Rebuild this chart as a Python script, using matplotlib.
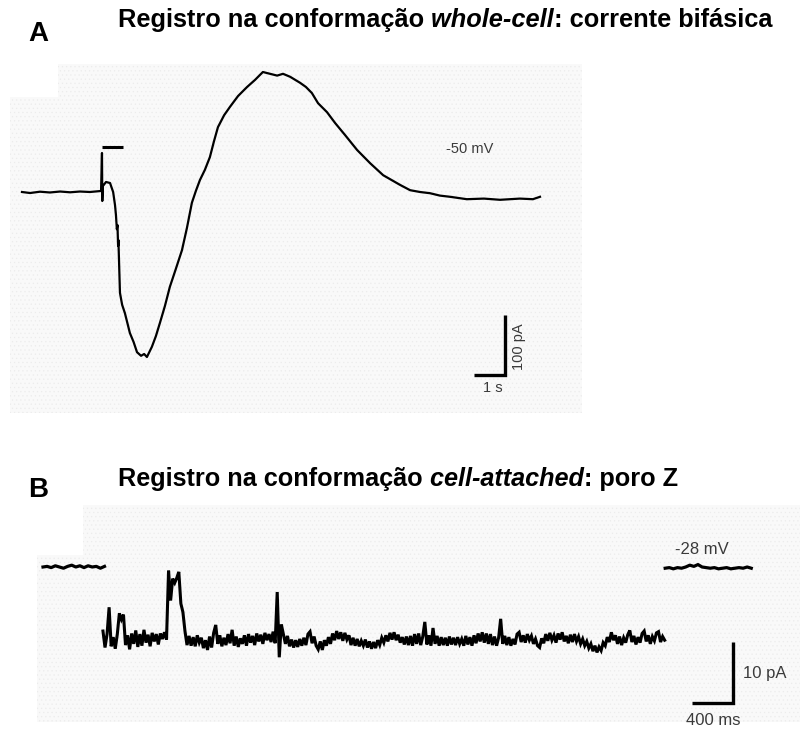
import numpy as np
import matplotlib
matplotlib.use("Agg")
import matplotlib.pyplot as plt
from matplotlib.patches import Polygon

plt.rcParams['font.family'] = ['Liberation Sans', 'DejaVu Sans']
plt.rcParams['hatch.linewidth'] = 0.4

# ---- panel A: whole-cell current, time (s) vs current (pA) ----
a_time = [0.00, 0.26, 0.58, 0.90, 1.23, 1.55, 1.87, 2.19, 2.55, 2.58,
          2.59, 2.61, 2.71, 2.84, 2.94, 3.00, 3.03, 3.06, 3.08, 3.10,
          3.11, 3.13, 3.16, 3.23, 3.32, 3.48, 3.60, 3.71, 3.84, 3.94,
          4.03, 4.19, 4.32, 4.45, 4.61, 4.77, 4.97, 5.16, 5.32, 5.48,
          5.61, 5.74, 5.90, 6.06, 6.19, 6.32, 6.52, 6.71, 6.97, 7.26,
          7.52, 7.77, 8.00, 8.23, 8.42, 8.65, 8.97, 9.16, 9.35, 9.55,
          9.84, 10.10, 10.42, 10.81, 11.23, 11.65, 12.19, 12.52, 12.84, 13.16,
          13.48, 13.81, 14.35, 14.90, 15.42, 16.06, 16.48, 16.71]
a_current = [0, -1.7, 0.5, -0.8, 0.8, -0.5, 0.8, 0, 1.7, 65,
             -15, 10, 16.7, 15, 0, -21.7, -38, -62, -55, -90,
             -80, -115, -168, -188, -202, -235, -250, -267, -273, -270,
             -275, -258, -240, -218, -190, -158, -127, -97, -60, -18,
             2, 20, 37, 58, 84, 108, 128, 142, 160, 175,
             187, 200, 197, 194, 197, 192, 182, 175, 165, 148,
             133, 115, 95, 70, 48, 28, 12, 3, 0, -2,
             -6, -8, -12, -11, -13, -11, -12, -8]
a_stim_time = [2.58, 3.26]
a_stim_level = 75
a_label = "-50 mV"

# ---- panel B: cell-attached record, time (s) vs current (pA) ----
b_dt_closed = 0.04
b_dt_open = 0.02
b_left_start = 0.0
b_open_start = 0.585
b_right_start = 6.07
b_closed_left = [0.0, 0.1, -0.1, 0.2, 0.0, -0.2, 0.1, 0.3, 0.0, 0.2,
                 -0.1, 0.2, 0.0, 0.1, -0.2, 0.1]
b_open = [
    -10.5, -13.2, -11.0, -6.6, -13.0, -11.5, -13.4, -11.0, -7.6, -8.6,
    -7.8, -12.8, -11.2, -13.5, -10.9, -12.6, -10.4, -13.1, -11.0, -12.9,
    -10.3, -12.4, -11.1, -13.0, -10.8, -12.2, -11.0, -12.7, -10.9, -11.8,
    -10.7, -11.9, -0.6, -5.5, -1.9, -2.6, -1.8, -0.8, -6.0, -7.4,
    -10.5, -12.8, -11.3, -12.9, -11.5, -13.0, -11.2, -12.4, -11.6, -13.3,
    -12.0, -13.6, -11.4, -13.2, -10.8, -9.5, -12.6, -11.2, -13.0, -11.6,
    -12.8, -11.0, -12.5, -10.3, -12.9, -11.4, -13.1, -11.7, -12.6, -11.2,
    -12.9, -11.0, -12.4, -11.3, -12.8, -10.9, -12.2, -11.1, -12.6, -10.8,
    -12.0, -11.0, -12.3, -10.6, -12.5, -4.1, -14.8, -9.4, -11.0, -12.6,
    -11.3, -13.0, -11.9, -13.2, -12.0, -13.1, -11.8, -12.9, -11.6, -12.8,
    -11.0, -10.6, -12.5, -11.4, -12.9, -13.5, -12.2, -13.6, -12.0, -12.9,
    -11.5, -12.6, -10.9, -12.0, -10.5, -11.8, -10.7, -12.1, -10.8, -11.9,
    -11.2, -12.8, -11.6, -12.9, -11.8, -13.0, -12.1, -12.9, -11.9, -13.2,
    -12.2, -13.4, -12.3, -13.3, -12.0, -12.8, -11.6, -12.4, -11.2, -12.2,
    -10.8, -11.9, -10.7, -12.0, -11.1, -12.4, -11.5, -12.7, -11.4, -12.8,
    -11.3, -12.9, -11.0, -12.6, -10.9, -12.8, -11.4, -9.0, -12.7, -11.2,
    -12.9, -10.0, -12.6, -11.3, -12.9, -11.5, -12.8, -11.6, -12.9, -11.4,
    -12.7, -11.6, -12.8, -11.5, -12.6, -11.8, -12.9, -11.3, -12.7, -11.5,
    -12.9, -11.2, -12.5, -10.9, -12.2, -10.7, -12.4, -10.9, -12.6, -11.0,
    -12.8, -11.4, -12.9, -11.6, -8.5, -12.6, -11.3, -12.8, -11.5, -12.9,
    -11.8, -12.7, -11.0, -10.7, -12.3, -11.2, -12.4, -11.0, -12.0, -11.3,
    -12.6, -11.8, -12.9, -13.2, -11.7, -12.5, -11.0, -12.1, -10.8, -12.0,
    -11.2, -12.4, -10.9, -11.9, -10.7, -12.2, -11.3, -12.5, -11.1, -12.3,
    -11.0, -12.2, -11.4, -12.6, -11.8, -12.9, -12.2, -13.3, -12.6, -13.8,
    -12.9, -14.0, -13.1, -13.7, -12.4, -12.9, -11.5, -12.3, -10.7, -12.0,
    -11.2, -12.6, -11.4, -12.8, -11.6, -12.4, -11.1, -10.4, -12.3, -11.3,
    -12.7, -11.5, -12.4, -10.9, -10.5, -12.2, -11.2, -12.6, -11.4, -12.1,
    -10.8, -10.6, -12.3, -11.4, -12.0,
]
b_closed_right = [-0.2, -0.1, -0.3, -0.1, -0.2, 0.0, 0.3, 0.1, 0.4, 0.0,
                  -0.1, -0.2, -0.1, -0.3, -0.2, -0.1, -0.3, -0.2, -0.1, -0.2,
                  0.0, -0.2]
b_label = "-28 mV"

W, H = 804, 729
grey_txt = '#3a3a3a'


def box(l, t, r, b):
    return [l / W, 1 - b / H, (r - l) / W, (b - t) / H]


fig = plt.figure(figsize=(W / 100, H / 100), dpi=100)

# background (scanned panels) + titles, in pixel units
bg = fig.add_axes([0, 0, 1, 1], zorder=0)
bg.set_xlim(0, W)
bg.set_ylim(H, 0)
bg.axis('off')
for pts in ([(10, 97), (58, 97), (58, 64), (582, 64), (582, 413), (10, 413)],
            [(37, 555), (83, 555), (83, 505), (800, 505), (800, 722), (37, 722)]):
    bg.add_patch(Polygon(pts, closed=True, facecolor='#f9f9f9',
                         edgecolor='#ececec', hatch='....', linewidth=0))


def title(x, y, parts, size):
    t = bg.text(x, y, parts[0][0], fontsize=size, fontweight='bold',
                fontstyle=parts[0][1], va='baseline')
    for s, st in parts[1:]:
        t = bg.annotate(s, xycoords=t, xy=(1, 0), va='bottom', fontsize=size,
                        fontweight='bold', fontstyle=st)


bg.text(28, 41, "A", fontsize=20, fontweight='bold', va='baseline')
title(118, 27, [("Registro na conformação", 'normal'),
                (" whole-cell", 'italic'),
                (": corrente bifásica", 'normal')], 18.3)
bg.text(28, 497, "B", fontsize=20, fontweight='bold', va='baseline')
title(118, 486, [("Registro na conformação", 'normal'),
                 (" cell-attached", 'italic'),
                 (": poro Z", 'normal')], 18.2)

# ---- panel A ----
axA = fig.add_axes(box(0, 60, W, 420), zorder=1)
axA.patch.set_alpha(0)
axA.set_xlim((0 - 22) / 31, (W - 22) / 31)
axA.set_ylim((192 - 420) / 0.6, (192 - 60) / 0.6)
axA.axis('off')
axA.plot(a_time, a_current, color='black', lw=1.6, solid_joinstyle='round')
axA.plot(a_stim_time, [a_stim_level] * 2, color='black', lw=2.2,
         solid_capstyle='butt')
axA.plot([14.58, 15.58, 15.58], [-305, -305, -205], color='black', lw=2.4,
         solid_capstyle='butt', solid_joinstyle='miter')
axA.text(15.19, -327, "1 s", fontsize=10.5, color=grey_txt, ha='center',
         va='center')
axA.text(16.03, -258, "100 pA", fontsize=10.5, color=grey_txt, ha='center',
         va='center', rotation=90)
axA.text(14.45, 72, a_label, fontsize=10.5, color=grey_txt, ha='center',
         va='center')

# ---- panel B ----
axB = fig.add_axes(box(0, 500, W, H), zorder=1)
axB.patch.set_alpha(0)
axB.set_xlim((0 - 43) / 102.5, (W - 43) / 102.5)
axB.set_ylim((567 - H) / 6.1, (567 - 500) / 6.1)
axB.axis('off')
t_left = b_left_start + np.arange(len(b_closed_left)) * b_dt_closed
t_open = b_open_start + np.arange(len(b_open)) * b_dt_open
t_right = b_right_start + np.arange(len(b_closed_right)) * b_dt_closed
axB.plot(t_left, b_closed_left, color='black', lw=2.3)
axB.plot(t_open, b_open, color='black', lw=2.2, solid_joinstyle='miter')
axB.plot(t_right, b_closed_right, color='black', lw=2.3)
axB.plot([6.33, 6.73, 6.73], [-22.3, -22.3, -12.3], color='black', lw=2.4,
         solid_capstyle='butt', solid_joinstyle='miter')
axB.text(6.83, -17.5, "10 pA", fontsize=12, color=grey_txt, ha='left',
         va='center')
axB.text(6.54, -25.1, "400 ms", fontsize=12, color=grey_txt, ha='center',
         va='center')
axB.text(6.43, 2.8, b_label, fontsize=12, color=grey_txt, ha='center',
         va='center')

fig.savefig('out.png', dpi=100)
